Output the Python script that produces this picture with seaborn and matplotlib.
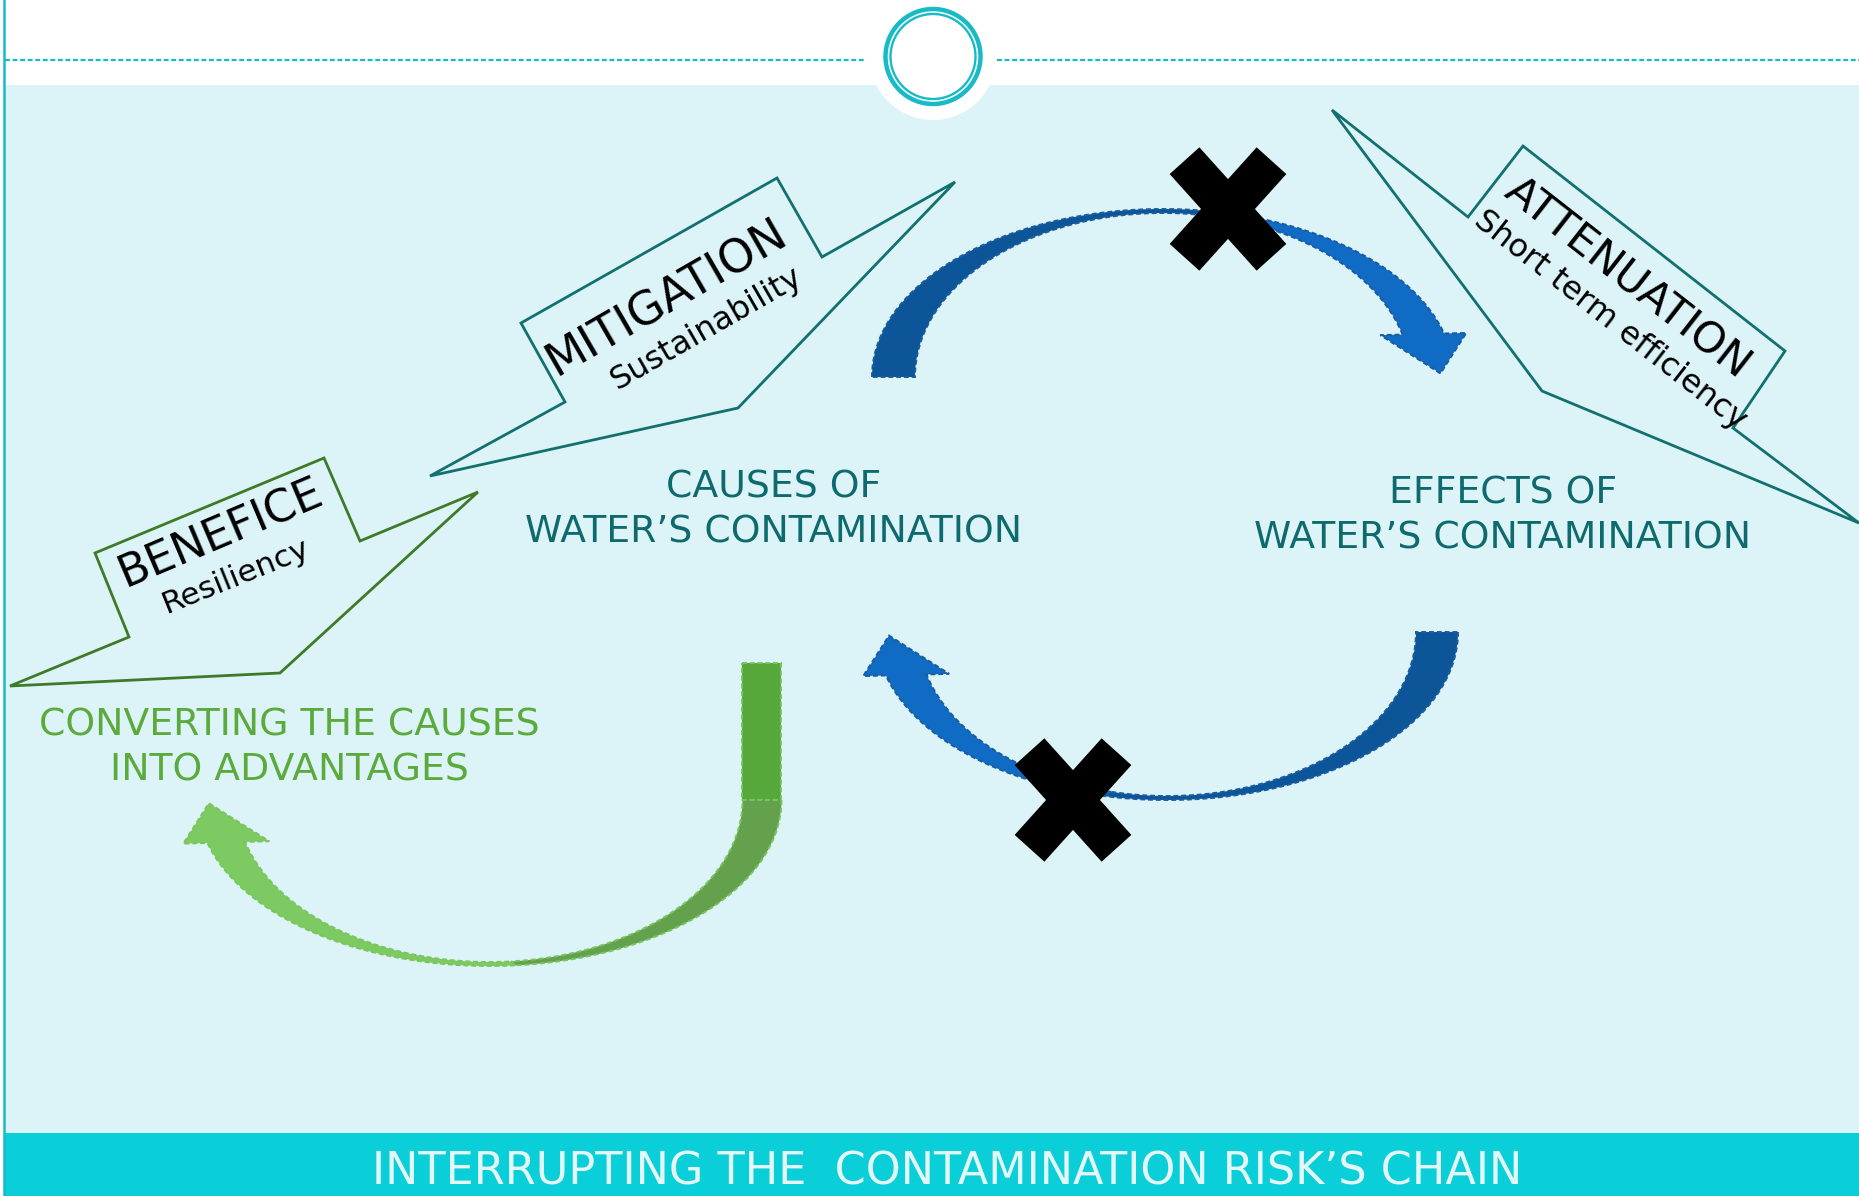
import numpy as np
import matplotlib
matplotlib.use("Agg")
import matplotlib.pyplot as plt
import seaborn as sns
import pandas as pd
from matplotlib.patches import Polygon, Rectangle, Circle

# ---------------- content ----------------
node_labels = ["CAUSES OF\nWATER\u2019S CONTAMINATION",
               "EFFECTS OF\nWATER\u2019S CONTAMINATION",
               "CONVERTING THE CAUSES\nINTO ADVANTAGES"]
strategy_titles = ["MITIGATION", "ATTENUATION", "BENEFICE"]
strategy_subtitles = ["Sustainability", "Short term efficiency", "Resiliency"]
banner_title = "INTERRUPTING THE  CONTAMINATION RISK\u2019S CHAIN"

# ---------------- layout / style ----------------
W, H = 1859, 1196
BG = "#DCF4F8"
TEAL_LINE = "#16BBC6"
BANNER = "#0BCFD8"
TEAL_TEXT = "#0F6A6D"
GREEN_TEXT = "#5AAA3C"
CALLOUT_TEAL = "#12706F"
CALLOUT_GREEN = "#3E7A27"
BLUE_DARK = "#0C5599"
BLUE_LIGHT = "#0F6BC3"
GREEN_LEG = "#57A83A"
GREEN_MID = "#63A14D"
GREEN_LIGHT = "#7DCA62"

sns.set_theme(style="white")
plt.rcParams["font.family"] = ["DejaVu Sans"]

fig = plt.figure(figsize=(W / 100, H / 100), dpi=100)
ax = fig.add_axes([0, 0, 1, 1])
ax.set_xlim(0, W)
ax.set_ylim(H, 0)
ax.axis("off")
fig.patch.set_facecolor("white")

# background panel and banner
ax.add_patch(Rectangle((4, 85), W - 4, 1133 - 85, facecolor=BG, edgecolor="none", zorder=0))
ax.add_patch(Rectangle((4, 1133), W - 4, H - 1133, facecolor=BANNER, edgecolor="none", zorder=0))
ax.plot([4.5, 4.5], [0, H], color=TEAL_LINE, lw=1.8, zorder=1)

# top dashed line with the ring
line_df = pd.DataFrame({"x": [5, 865, np.nan, 997, W], "y": [60, 60, np.nan, 60, 60]})
ax.plot(line_df["x"], line_df["y"], color=TEAL_LINE, lw=1.6, ls=(0, (2.2, 1.2)), zorder=1)
ax.add_patch(Circle((933, 56.5), 63.5, facecolor="white", edgecolor="none", zorder=2))
ax.add_patch(Circle((933, 56.5), 47.5, facecolor="none", edgecolor=TEAL_LINE, lw=3.2, zorder=3))
ax.add_patch(Circle((933, 56.5), 42.5, facecolor="none", edgecolor=TEAL_LINE, lw=1.7, zorder=3))


# ---------------- curved arrows ----------------
def arc_pts(cx, cy, r, t0, t1, s, n=120):
    th = np.radians(np.linspace(t0, t1, n))
    return np.c_[cx + s * r[0] * np.cos(th), cy - s * r[1] * np.sin(th)]


def band(cx, cy, ro, ri, t0, t1, s):
    return np.vstack([arc_pts(cx, cy, ro, t0, t1, s), arc_pts(cx, cy, ri, t0, t1, s)[::-1]])


def band_with_head(cx, cy, ro, ri, t0, t1, s, half, length):
    o = arc_pts(cx, cy, ro, t0, t1, s)
    i = arc_pts(cx, cy, ri, t0, t1, s)
    O, I = o[-1], i[-1]
    M = (O + I) / 2
    u = (O - I) / np.linalg.norm(O - I)
    th = np.radians(t1)
    rx = (ro[0] + ri[0]) / 2
    ry = (ro[1] + ri[1]) / 2
    t = np.array([s * rx * np.sin(th), s * ry * np.cos(th)])
    t = t / np.linalg.norm(t)
    head = np.array([M + half * u, M + length * t, M - half * u])
    return np.vstack([o, head, i[::-1]])


def draw_arrow(cx, cy, ro, ri, s, split, c1, c2, edge, head_half=43, head_len=43, end=15):
    p1 = band(cx, cy, ro, ri, 180, split, s)
    p2 = band_with_head(cx, cy, ro, ri, split, end, s, head_half, head_len)
    ax.add_patch(Polygon(p1, closed=True, facecolor=c1, edgecolor=edge, lw=1.4,
                         ls=(0, (2.5, 1.5)), zorder=4))
    ax.add_patch(Polygon(p2, closed=True, facecolor=c2, edgecolor=edge, lw=1.4,
                         ls=(0, (2.5, 1.5)), zorder=4))


# top blue arrow (causes -> effects)
draw_arrow(1163, 377, (291, 168), (248, 164), 1, 77, BLUE_DARK, BLUE_LIGHT, "#1A5C9E")
# bottom blue arrow (effects -> causes)
draw_arrow(1167, 632, (291, 168), (249, 164), -1, 77, BLUE_DARK, BLUE_LIGHT, "#1A5C9E")
# green arrow (causes -> advantages)
ax.add_patch(Rectangle((742.5, 663), 39, 800 - 663, facecolor=GREEN_LEG, edgecolor="#79C65F",
                       lw=1.4, ls=(0, (2.5, 1.5)), zorder=4))
draw_arrow(489.5, 800, (292, 166), (253, 162), -1, 95, GREEN_MID, GREEN_LIGHT, "#79C65F")


# ---------------- crosses ----------------
def draw_cross(cx, cy, L=130, w=40, ang=48):
    for a in (ang, 180 - ang):
        r = np.radians(a)
        d = np.array([np.cos(r), np.sin(r)])
        nrm = np.array([-np.sin(r), np.cos(r)])
        c = np.array([cx, cy])
        pts = [c + L / 2 * d + w / 2 * nrm, c + L / 2 * d - w / 2 * nrm,
               c - L / 2 * d - w / 2 * nrm, c - L / 2 * d + w / 2 * nrm]
        ax.add_patch(Polygon(pts, closed=True, facecolor="black", edgecolor="none", zorder=6))


draw_cross(1228, 209)
draw_cross(1073, 800)

# ---------------- callouts ----------------
callout_shapes = [
    [(430, 476), (565, 402), (521, 323), (777, 178), (822, 257), (955, 182), (738, 408)],
    [(1332, 110), (1468, 217), (1523, 146), (1785, 351), (1733, 428), (1859, 523), (1542, 391)],
    [(10, 686), (129, 637), (95, 553), (324, 458), (360, 541), (478, 492), (280, 673)],
]
callout_colors = [CALLOUT_TEAL, CALLOUT_TEAL, CALLOUT_GREEN]
for pts, col in zip(callout_shapes, callout_colors):
    ax.add_patch(Polygon(pts, closed=True, facecolor="none", edgecolor=col, lw=2.0, zorder=3))

title_pos = [(667, 298, 30, 33), (1627, 278, -38, 31), (221, 533, 23, 32)]
sub_pos = [(707, 329, 30, 23), (1610, 320, -38, 23), (236, 576, 22, 22.5)]
for txt, (x, y, rot, fs) in zip(strategy_titles, title_pos):
    ax.text(x, y, txt, ha="center", va="center", rotation=rot, rotation_mode="anchor",
            fontsize=fs, color="black", zorder=7)
for txt, (x, y, rot, fs) in zip(strategy_subtitles, sub_pos):
    ax.text(x, y, txt, ha="center", va="center", rotation=rot, rotation_mode="anchor",
            fontsize=fs, color="black", zorder=7)

# ---------------- node labels ----------------
node_pos = [(774, 510, TEAL_TEXT), (1503, 516, TEAL_TEXT), (289, 748, GREEN_TEXT)]
for txt, (x, y, col) in zip(node_labels, node_pos):
    ax.text(x, y, txt, ha="center", va="center", fontsize=27.2, color=col,
            linespacing=1.32, zorder=7)

ax.text(947, 1172, banner_title, ha="center", va="center", fontsize=32,
        color="#E3F7F9", zorder=7)

fig.savefig("out.png", dpi=100, facecolor="white")
